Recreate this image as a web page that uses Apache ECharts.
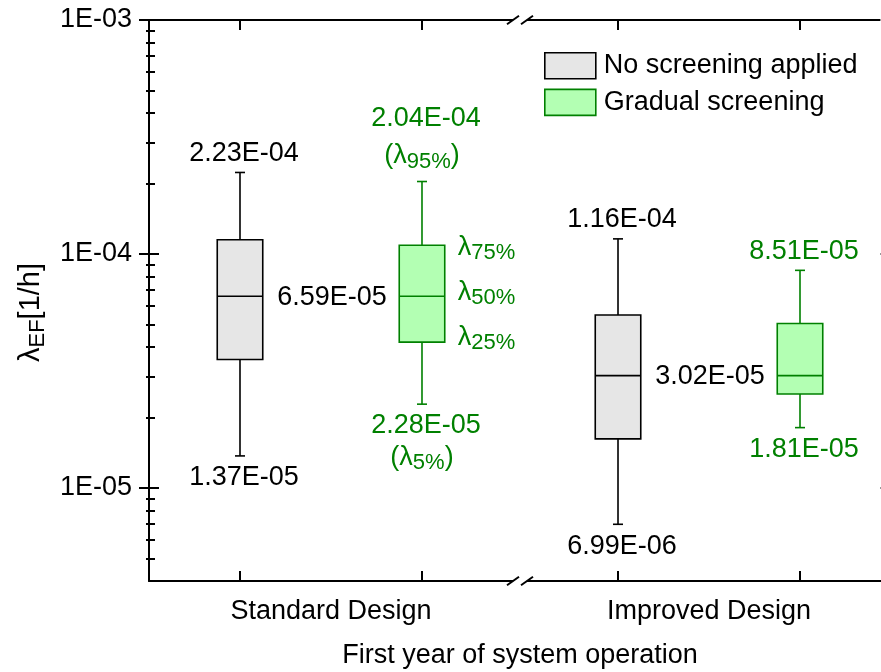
<!DOCTYPE html>
<html>
<head>
<meta charset="utf-8">
<script src="https://cdn.jsdelivr.net/npm/echarts@6/dist/echarts.min.js"></script>
<style>html,body{margin:0;padding:0;background:#fff}#c{width:881px;height:672px}</style>
</head>
<body>
<div id="c"></div>
<script>
// ---------------- data ----------------
const categories = ['Standard Design', 'Improved Design'];
const seriesNames = ['No screening applied', 'Gradual screening'];
// percentiles per category: [λ5%, λ25%, λ50%, λ75%, λ95%]
const noScreening = [
  [1.37e-5, 3.54e-5, 6.59e-5, 1.15e-4, 2.23e-4],
  [6.99e-6, 1.62e-5, 3.02e-5, 5.48e-5, 1.16e-4]
];
const gradualScreening = [
  [2.28e-5, 4.20e-5, 6.59e-5, 1.09e-4, 2.04e-4],
  [1.81e-5, 2.52e-5, 3.02e-5, 5.04e-5, 8.51e-5]
];
const yMajorTicks = [1e-5, 1e-4, 1e-3];
const yRange = [4e-6, 1e-3];
const xAxisTitle = 'First year of system operation';

// ---------------- style / layout ----------------
const FONT = '"Liberation Sans", Arial, sans-serif';
const FS = 27, SUB = 22;
const GREEN = '#008000', GREEN_FILL = '#b3ffb3', GRAY_FILL = '#e6e6e6';
const GROUP_STEP = 2.077;           // spacing between groups (includes axis break)
const BOX_W = 0.25, CAP_W = 0.055;  // in x units
const X_MIN = 0.5, X_MAX = 1 + GROUP_STEP + 1 + 0.5;
const BREAK_X = (2 + 1 + GROUP_STEP) / 2;

const L = v => Math.log10(v);
const pos = (g, s) => 1 + g * GROUP_STEP + s;
function fmtVal(v) {
  let e = Math.floor(Math.log10(v));
  let m = v / Math.pow(10, e);
  if (m >= 9.995) { m /= 10; e += 1; }
  const a = Math.abs(e);
  return m.toFixed(2) + 'E' + (e < 0 ? '-' : '+') + (a < 10 ? '0' : '') + a;
}
function fmtTick(lv) {
  const e = Math.round(lv), a = Math.abs(e);
  return '1E' + (e < 0 ? '-' : '+') + (a < 10 ? '0' : '') + a;
}
const majorLog = yMajorTicks.map(L);
const minorLog = [];
for (let e = Math.floor(L(yRange[0])); e < Math.round(L(yRange[1])); e++) {
  for (let k = 2; k <= 9; k++) {
    const v = k * Math.pow(10, e);
    if (v > yRange[0] * 1.0001 && v < yRange[1]) minorLog.push(L(v));
  }
}
const boxTicks = [];
categories.forEach((c, g) => seriesNames.forEach((n, s) => boxTicks.push(pos(g, s))));
const groupCenters = categories.map((c, g) => pos(g, 0) + 0.5);

const richLam = {
  m: {fontSize: FS, fontFamily: FONT, fill: GREEN},
  s: {fontSize: SUB, fontFamily: FONT, fill: GREEN, padding: [12, 0, 0, 0]}
};
function txt(x, y, text, fill, align, rich) {
  const st = {text: text, fill: fill, fontSize: FS, fontFamily: FONT, align: align || 'center', verticalAlign: 'middle'};
  if (rich) st.rich = rich;
  return {type: 'text', x: x, y: y, style: st, silent: true};
}

function makeRender(s) {
  return function (params, api) {
    const g = params.dataIndex;
    const x = api.value(0);
    const v = [1, 2, 3, 4, 5].map(i => api.value(i));
    const cx = api.coord([x, v[2]])[0];
    const y = v.map(val => api.coord([x, val])[1]);
    const w = api.size([BOX_W, 0])[0];
    const cw = api.size([CAP_W, 0])[0];
    const col = s === 0 ? '#000' : GREEN;
    const fill = s === 0 ? GRAY_FILL : GREEN_FILL;
    const ls = {stroke: col, lineWidth: 1.6};
    const ch = [
      {type: 'line', shape: {x1: cx, y1: y[3], x2: cx, y2: y[4]}, style: ls},
      {type: 'line', shape: {x1: cx - cw / 2, y1: y[4], x2: cx + cw / 2, y2: y[4]}, style: ls},
      {type: 'line', shape: {x1: cx, y1: y[1], x2: cx, y2: y[0]}, style: ls},
      {type: 'line', shape: {x1: cx - cw / 2, y1: y[0], x2: cx + cw / 2, y2: y[0]}, style: ls},
      {type: 'rect', shape: {x: cx - w / 2, y: y[3], width: w, height: y[1] - y[3]}, style: {fill: fill, stroke: col, lineWidth: 1.6}},
      {type: 'line', shape: {x1: cx - w / 2, y1: y[2], x2: cx + w / 2, y2: y[2]}, style: ls}
    ];
    const raw = (s === 0 ? noScreening : gradualScreening)[g];
    const annotated = (s === 1 && g === 0);
    if (annotated) {
      ch.push(txt(cx + 4, y[4] - 63, fmtVal(raw[4]), col));
      ch.push(txt(cx, y[4] - 26, '{m|(λ}{s|95%}{m|)}', col, 'center', richLam));
      ch.push(txt(cx + 4, y[0] + 21.5, fmtVal(raw[0]), col));
      ch.push(txt(cx, y[0] + 53, '{m|(λ}{s|5%}{m|)}', col, 'center', richLam));
      const lx = cx + w / 2 + 13;
      ch.push(txt(lx, y[3] + 2, '{m|λ}{s|75%}', col, 'left', richLam));
      ch.push(txt(lx, y[2] - 4, '{m|λ}{s|50%}', col, 'left', richLam));
      ch.push(txt(lx, y[1] - 5, '{m|λ}{s|25%}', col, 'left', richLam));
    } else {
      ch.push(txt(cx + 4, y[4] - 19, fmtVal(raw[4]), col));
      ch.push(txt(cx + 4, y[0] + 22, fmtVal(raw[0]), col));
    }
    if (s === 0) {
      const gc = cx + api.size([0.5, 0])[0];
      ch.push(txt(gc + 1, y[2] + 1, fmtVal(raw[2]), '#000'));
    }
    return {type: 'group', children: ch};
  };
}

function renderBreak(params, api) {
  const cs = params.coordSys;
  const bx = api.coord([api.value(0), L(yRange[0])])[0];
  const ch = [];
  [cs.y, cs.y + cs.height].forEach(function (ay) {
    ch.push({type: 'rect', shape: {x: bx - 7, y: ay - 3, width: 14, height: 6}, style: {fill: '#fff'}});
    [-7, 7].forEach(function (d) {
      ch.push({type: 'line', shape: {x1: bx + d - 6, y1: ay + 4.3, x2: bx + d + 6, y2: ay - 4.3}, style: {stroke: '#000', lineWidth: 2}});
    });
  });
  return {type: 'group', children: ch};
}

const lineBlack = {color: '#000', width: 2};
const yBase = {type: 'value', min: L(yRange[0]), max: L(yRange[1]), position: 'left', splitLine: {show: false}, axisLabel: {show: false}, axisLine: {show: false}};

const option = {
  animation: false,
  backgroundColor: '#fff',
  grid: {left: 149, top: 20, width: 742, height: 561, containLabel: false, outerBoundsMode: 'none'},
  legend: {
    orient: 'vertical', left: 544, top: 52, padding: 0, itemWidth: 51, itemHeight: 26, itemGap: 9,
    selectedMode: false,
    textStyle: {fontSize: FS, fontFamily: FONT, color: '#000', lineHeight: 26, padding: [0, 0, 0, 3]},
    data: [
      {name: seriesNames[0], icon: 'rect', itemStyle: {color: GRAY_FILL, borderColor: '#000', borderWidth: 1.6}},
      {name: seriesNames[1], icon: 'rect', itemStyle: {color: GREEN_FILL, borderColor: GREEN, borderWidth: 1.6}}
    ]
  },
  xAxis: [
    {
      type: 'value', min: X_MIN, max: X_MAX, position: 'bottom',
      splitLine: {show: false},
      axisLine: {show: true, onZero: false, lineStyle: lineBlack},
      axisTick: {show: true, inside: true, length: 10, lineStyle: lineBlack, customValues: boxTicks},
      axisLabel: {show: true, customValues: groupCenters, margin: 17, fontSize: FS, fontFamily: FONT, color: '#000',
        formatter: function (val) { return categories[Math.round((val - groupCenters[0]) / GROUP_STEP)]; }},
      name: xAxisTitle, nameLocation: 'middle', nameGap: 61,
      nameTextStyle: {fontSize: FS, fontFamily: FONT, color: '#000'}
    },
    {
      type: 'value', min: X_MIN, max: X_MAX, position: 'top',
      splitLine: {show: false},
      axisLine: {show: true, onZero: false, lineStyle: lineBlack},
      axisTick: {show: true, inside: true, length: 10, lineStyle: lineBlack, customValues: boxTicks},
      axisLabel: {show: false}
    }
  ],
  yAxis: [
    Object.assign({}, yBase, {
      axisLine: {show: true, onZero: false, lineStyle: lineBlack},
      axisTick: {show: true, inside: false, length: 10, lineStyle: lineBlack, customValues: majorLog},
      axisLabel: {show: true, customValues: majorLog, margin: 17, fontSize: FS, fontFamily: FONT, color: '#000', formatter: fmtTick},
      name: '{m|λ}{s|EF}{m|[1/h]}', nameLocation: 'middle', nameGap: 97, nameRotate: 90,
      nameTextStyle: {color: '#000', padding: [0, 24, 0, 0], rich: {
        m: {fontSize: 29, fontFamily: FONT, color: '#000'},
        s: {fontSize: 22, fontFamily: FONT, color: '#000', padding: [14, 0, 0, 0]}
      }}
    }),
    Object.assign({}, yBase, {axisTick: {show: true, inside: true, length: 10, lineStyle: lineBlack, customValues: majorLog}}),
    Object.assign({}, yBase, {axisTick: {show: true, inside: true, length: 6, lineStyle: lineBlack, customValues: minorLog}}),
    Object.assign({}, yBase, {axisTick: {show: true, inside: false, length: 3, lineStyle: lineBlack, customValues: minorLog}}),
    Object.assign({}, yBase, {position: 'right',
      axisLine: {show: true, onZero: false, lineStyle: lineBlack},
      axisTick: {show: true, inside: true, length: 11, lineStyle: {color: '#999', width: 2}, customValues: majorLog}})
  ],
  series: [
    {
      name: seriesNames[0], type: 'custom', xAxisIndex: 0, yAxisIndex: 0, z: 3,
      itemStyle: {color: GRAY_FILL},
      renderItem: makeRender(0),
      data: noScreening.map((row, g) => [pos(g, 0)].concat(row.map(L)))
    },
    {
      name: seriesNames[1], type: 'custom', xAxisIndex: 0, yAxisIndex: 0, z: 3,
      itemStyle: {color: GREEN_FILL},
      renderItem: makeRender(1),
      data: gradualScreening.map((row, g) => [pos(g, 1)].concat(row.map(L)))
    },
    {
      name: 'axis break', type: 'custom', xAxisIndex: 0, yAxisIndex: 0, z: 5, silent: true,
      renderItem: renderBreak,
      data: [[BREAK_X]]
    }
  ]
};

const chart = echarts.init(document.getElementById('c'), null, {renderer: 'canvas'});
chart.setOption(option);
</script>
</body>
</html>
